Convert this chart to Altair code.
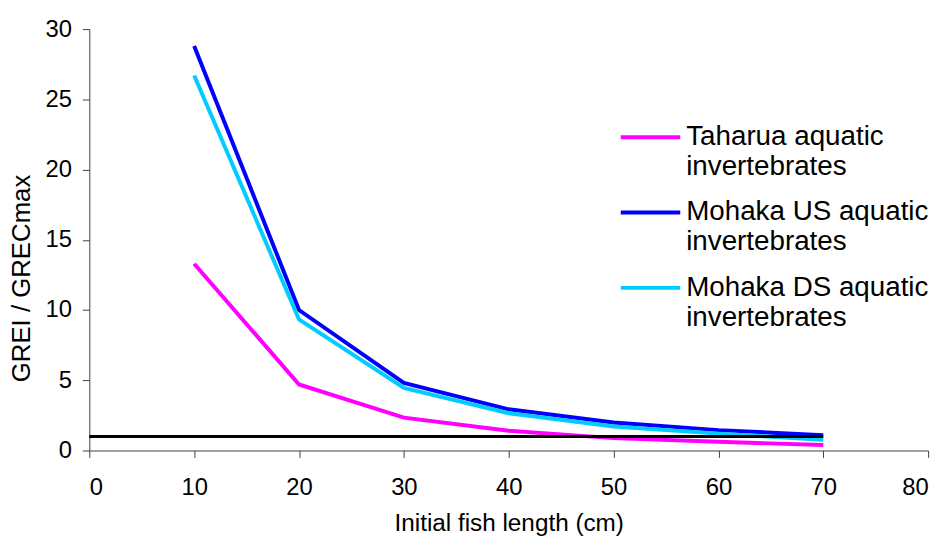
import altair as alt
import pandas as pd

lengths = [10, 20, 30, 40, 50, 60, 70]
taharua = [13.3, 4.7, 2.34, 1.4, 0.88, 0.62, 0.39]
mohaka_us = [28.8, 10.0, 4.81, 2.93, 1.99, 1.45, 1.09]
mohaka_ds = [26.7, 9.33, 4.46, 2.65, 1.71, 1.2, 0.76]
series_names = ["Taharua aquatic invertebrates",
                "Mohaka US aquatic invertebrates",
                "Mohaka DS aquatic invertebrates"]
series_colors = ["#FF00FF", "#0000FF", "#00CCFF"]
threshold_x = [0, 70]
threshold_y = [1, 1]
x_ticks = [0, 10, 20, 30, 40, 50, 60, 70, 80]
y_ticks = [0, 5, 10, 15, 20, 25, 30]

rows = []
for name, vals in zip(series_names, [taharua, mohaka_us, mohaka_ds]):
    for x, v in zip(lengths, vals):
        rows.append({"length": x, "value": v, "series": name})
df = pd.DataFrame(rows)
thr = pd.DataFrame({"length": threshold_x, "value": threshold_y})

FONT = "Liberation Sans"

xenc = alt.X("length:Q", scale=alt.Scale(domain=[0, 80], nice=False),
             axis=alt.Axis(values=x_ticks, title="Initial fish length (cm)",
                           titleX=423, titleY=74, titleBaseline="middle",
                           titleAlign="center", titleFontSize=24.5,
                           labelPadding=18))
yenc = alt.Y("value:Q", scale=alt.Scale(domain=[0, 30], nice=False),
             axis=alt.Axis(values=y_ticks, title="GREI / GRECmax",
                           titleX=-68, titleY=251, titleBaseline="middle",
                           titleAlign="center", titleAngle=-90, titleFontSize=26,
                           labelPadding=11))
color = alt.Color("series:N",
                  scale=alt.Scale(domain=series_names, range=series_colors),
                  legend=alt.Legend(
                      title=None, orient="none", legendX=534, legendY=77,
                      symbolType="stroke", symbolSize=3600, symbolStrokeWidth=4,
                      labelFont=FONT, labelFontSize=28, labelLimit=500,
                      labelOffset=4, rowPadding=-2, padding=0,
                      labelExpr="split(replace(datum.label, ' invertebrates', '|invertebrates'), '|')"))

layers = []
for name in series_names:
    layers.append(
        alt.Chart(df).transform_filter(alt.datum.series == name)
        .mark_line(strokeWidth=4)
        .encode(x=xenc, y=yenc, color=color)
    )
layers.append(
    alt.Chart(thr).mark_line(strokeWidth=3, color="black")
    .encode(x="length:Q", y="value:Q")
)

chart = alt.layer(*layers).properties(
    width=846, height=425,
    autosize=alt.AutoSizeParams(type="none"),
    padding={"left": 82, "top": 19, "right": 16, "bottom": 89},
).configure_view(stroke=None).configure_axis(
    grid=False, labelFont=FONT, titleFont=FONT, labelFontSize=24,
    labelColor="black", titleColor="black", titleFontWeight="normal",
    domainColor="#404040", tickColor="#404040", tickSize=7,
)

chart.save("out.html", embed_options={"renderer": "svg", "actions": False})
